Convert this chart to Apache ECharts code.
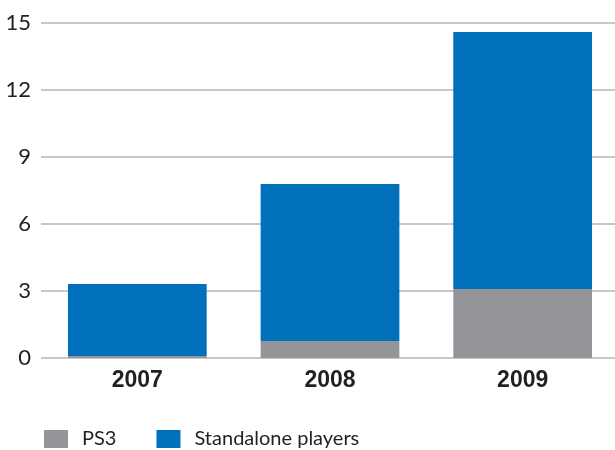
<!DOCTYPE html>
<html>
<head>
<meta charset="utf-8">
<style>
  html, body { margin: 0; padding: 0; background: #fff; }
  #chart { width: 615px; height: 450px; }
</style>
<script src="https://cdn.jsdelivr.net/npm/echarts@6/dist/echarts.min.js"></script>
</head>
<body>
<div id="chart"></div>
<script>
// Unit sales by year, split by player type
const years = ['2007', '2008', '2009'];
const ps3 = [0.09, 0.76, 3.09];
const standalone = [3.22, 7.03, 11.51];
const yTicks = { min: 0, max: 15, interval: 3 };

const chart = echarts.init(document.getElementById('chart'));
chart.setOption({
  animation: false,
  grid: { left: 41, width: 578, top: 23, height: 335, outerBoundsMode: 'none', containLabel: false },
  legend: {
    left: 44,
    top: 429,
    padding: 0,
    itemWidth: 24,
    itemHeight: 18,
    itemGap: 40,
    icon: 'rect',
    textStyle: {
      fontFamily: 'Lato',
      fontSize: 20,
      color: '#231f20',
      padding: [0, 0, 0, 9]
    },
    data: ['PS3', 'Standalone players']
  },
  xAxis: {
    type: 'category',
    data: years,
    axisLine: { show: false },
    axisTick: { show: false },
    axisLabel: {
      margin: 11,
      fontFamily: 'Liberation Sans',
      fontWeight: 'bold',
      fontSize: 23,
      color: '#231f20'
    }
  },
  yAxis: {
    type: 'value',
    min: yTicks.min,
    max: yTicks.max,
    interval: yTicks.interval,
    axisLine: { show: false },
    axisTick: { show: false },
    splitLine: { lineStyle: { color: '#c8c8c8', width: 2 } },
    axisLabel: {
      margin: 10,
      fontFamily: 'Lato',
      fontSize: 22,
      color: '#231f20'
    }
  },
  series: [
    {
      name: 'PS3',
      type: 'bar',
      stack: 'total',
      barWidth: '72%',
      itemStyle: { color: '#939598' },
      data: ps3
    },
    {
      name: 'Standalone players',
      type: 'bar',
      stack: 'total',
      barWidth: '72%',
      itemStyle: { color: '#0070ba' },
      data: standalone
    }
  ]
});
</script>
</body>
</html>
